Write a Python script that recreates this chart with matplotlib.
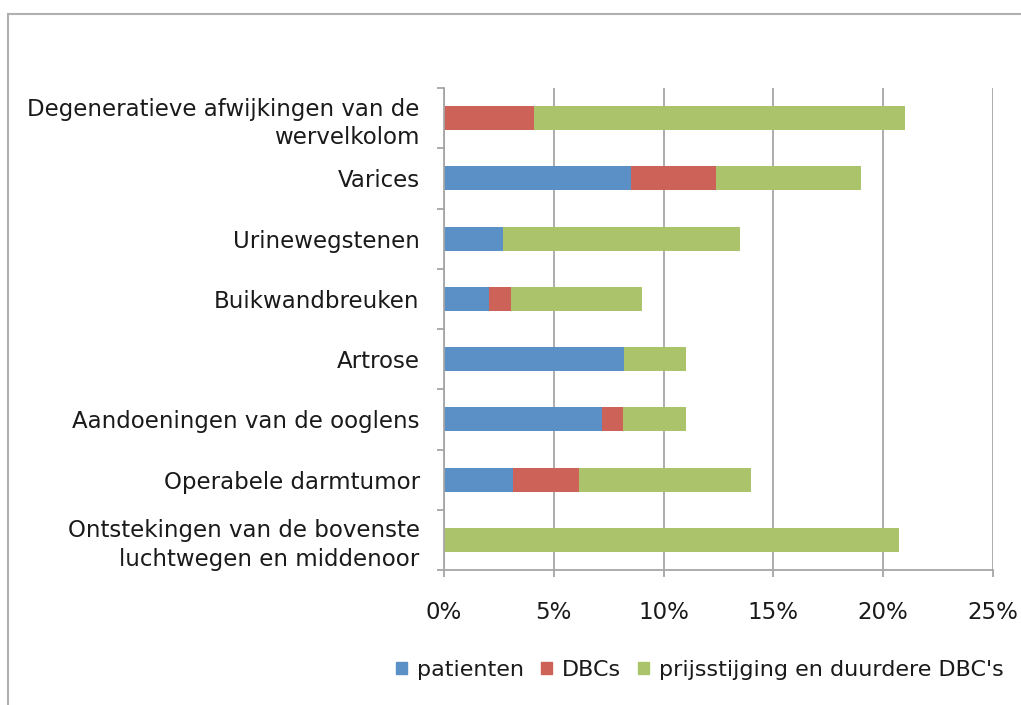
import matplotlib
matplotlib.use("Agg")
import matplotlib.pyplot as plt
import numpy as np
from matplotlib.lines import Line2D
from matplotlib.ticker import MultipleLocator, FuncFormatter

categories = [
    "Degeneratieve afwijkingen van de\nwervelkolom",
    "Varices",
    "Urinewegstenen",
    "Buikwandbreuken",
    "Artrose",
    "Aandoeningen van de ooglens",
    "Operabele darmtumor",
    "Ontstekingen van de bovenste\nluchtwegen en middenoor",
]
patienten = [0.0, 8.5, 2.7, 2.05, 8.2, 7.2, 3.15, 0.0]
dbcs = [4.1, 3.9, 0.0, 1.0, 0.0, 0.95, 3.0, 0.0]
prijs = [16.9, 6.6, 10.8, 5.95, 2.8, 2.85, 7.85, 20.7]
series_names = ["patienten", "DBCs", "prijsstijging en duurdere DBC's"]
colors = ["#5B90C6", "#CC6258", "#ABC46B"]

plt.rcParams['font.family'] = ['DejaVu Sans']
fig = plt.figure(figsize=(10.21, 7.05), dpi=100)
ax = fig.add_axes([444/1021, 1-570/705, (993-444)/1021, (570-88)/705])

y = np.arange(len(categories))
left = np.zeros(len(categories))
for vals, col, name in zip([patienten, dbcs, prijs], colors, series_names):
    v = np.array(vals)
    ax.barh(y, v, left=left, height=0.4, color=col, label=name, zorder=3)
    left += v

ax.set_xlim(0, 25)
ax.set_ylim(len(categories)-0.5, -0.5)
ax.xaxis.set_major_locator(MultipleLocator(5))
ax.xaxis.set_major_formatter(FuncFormatter(lambda v, p: f"{int(round(v))}%"))
ax.grid(axis='x', color='#A6A6A6', linewidth=1.3, zorder=0)
ax.set_yticks(y)
ax.set_yticklabels(categories, fontsize=16.5, color='#1a1a1a', linespacing=1.3)
ax.set_yticks(np.arange(-0.5, len(categories), 1), minor=True)
ax.tick_params(axis='y', which='major', length=0, pad=17.5)
ax.tick_params(axis='y', which='minor', length=5, width=1.3, color='#A6A6A6', direction='out')
ax.tick_params(axis='x', which='major', length=5, width=1.3, color='#A6A6A6', labelsize=16.5, labelcolor='#1a1a1a', pad=17)
for s in ['top', 'right']:
    ax.spines[s].set_visible(False)
for s in ['left', 'bottom']:
    ax.spines[s].set_color('#A6A6A6')
    ax.spines[s].set_linewidth(1.3)
    ax.spines[s].set_zorder(4)

handles = [plt.Rectangle((0, 0), 1, 1, color=c) for c in colors]
fig.legend(handles, series_names, loc='center', bbox_to_anchor=(700/1021, 1-670/705),
           ncol=3, frameon=False, fontsize=16, handlelength=0.5, handleheight=0.5,
           handletextpad=0.45, columnspacing=0.75, labelcolor='#1a1a1a')

# outer chart frame (top and left visible)
fig.add_artist(Line2D([8/1021, 1], [1-14/705, 1-14/705], color='#B0B0B0', linewidth=1.5, transform=fig.transFigure))
fig.add_artist(Line2D([8/1021, 8/1021], [0, 1-14/705], color='#B0B0B0', linewidth=1.5, transform=fig.transFigure))

fig.savefig("out.png", dpi=100)
